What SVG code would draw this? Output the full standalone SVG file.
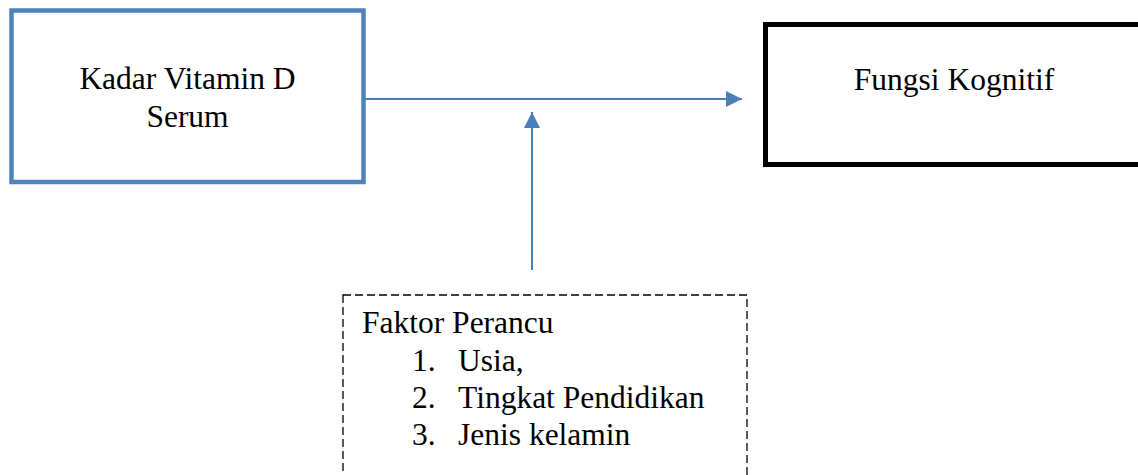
<svg xmlns="http://www.w3.org/2000/svg" width="1138" height="475" viewBox="0 0 1138 475">
  <style>
    .label { font-family: "Liberation Serif", "Times New Roman", serif; font-size: 31.5px; fill: #000; }
    .blue-box { fill: #fff; stroke: #4F81BD; stroke-width: 4.5; }
    .black-box { fill: #fff; stroke: #000; stroke-width: 5; }
    .dash-box { fill: #fff; stroke: #000; stroke-width: 1.3; stroke-dasharray: 8 4; }
    .link { stroke: #4A7EBB; stroke-width: 2; fill: none; }
  </style>
  <defs>
    <marker id="arrow" viewBox="0 0 16 16" refX="16" refY="8" markerWidth="16" markerHeight="16" markerUnits="userSpaceOnUse" orient="auto">
      <path d="M0,0 L16,8 L0,16 Z" fill="#4A7EBB"/>
    </marker>
  </defs>
  <rect width="1138" height="475" fill="#fff"/>

  <g id="connectors">
    <line class="link" x1="365" y1="99" x2="742" y2="99" marker-end="url(#arrow)"/>
    <line class="link" x1="532" y1="270" x2="532" y2="112" marker-end="url(#arrow)"/>
  </g>

  <g id="vitamin-d">
    <rect class="blue-box" x="11.5" y="10.5" width="352" height="171.5"/>
    <text class="label" x="187.5" y="89" text-anchor="middle">Kadar Vitamin D</text>
    <text class="label" x="187.5" y="127" text-anchor="middle">Serum</text>
  </g>

  <g id="fungsi-kognitif">
    <rect class="black-box" x="765.5" y="24.5" width="390" height="140"/>
    <text class="label" x="954" y="90" text-anchor="middle">Fungsi Kognitif</text>
  </g>

  <g id="faktor-perancu">
    <rect class="dash-box" x="343" y="295" width="404" height="200"/>
    <text class="label" x="362" y="333">Faktor Perancu</text>
    <text class="label" x="412" y="371">1.</text>
    <text class="label" x="458" y="371">Usia,</text>
    <text class="label" x="412" y="408">2.</text>
    <text class="label" x="458" y="408">Tingkat Pendidikan</text>
    <text class="label" x="412" y="445">3.</text>
    <text class="label" x="458" y="445">Jenis kelamin</text>
  </g>
</svg>
